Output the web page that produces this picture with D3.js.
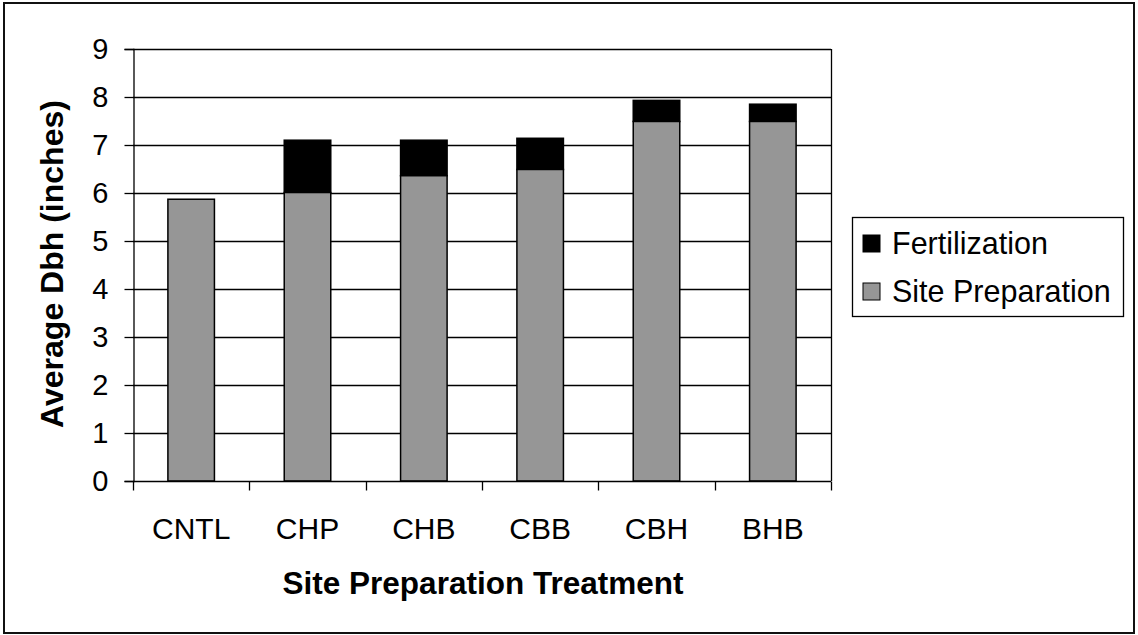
<!DOCTYPE html>
<html>
<head>
<meta charset="utf-8">
<script src="https://cdn.jsdelivr.net/npm/d3@7"></script>
<style>
  html, body { margin: 0; padding: 0; background: #fff; }
  svg { display: block; font-family: "Liberation Sans", Arial, sans-serif; }
</style>
</head>
<body>
<svg id="chart" width="1138" height="635"></svg>
<script>
// Average Dbh by site preparation treatment, split into site-preparation and fertilization gains
const treatments = ["CNTL", "CHP", "CHB", "CBB", "CBH", "BHB"];
const sitePreparation = [5.87, 6.01, 6.36, 6.49, 7.49, 7.49];
const fertilization = [0.00, 1.09, 0.74, 0.65, 0.44, 0.36];
const seriesNames = ["Fertilization", "Site Preparation"];
const seriesColors = ["#000000", "#969696"];
const yTicks = [0, 1, 2, 3, 4, 5, 6, 7, 8, 9];

const FONT = "'Liberation Sans', Arial, sans-serif";
const svg = d3.select("#chart");
const W = 1138, H = 635;

// outer frame
svg.append("rect")
  .attr("x", 4).attr("y", 3).attr("width", W - 8).attr("height", H - 5)
  .attr("fill", "#fff").attr("stroke", "#111").attr("stroke-width", 2);

const plot = { left: 133, right: 831, top: 49, bottom: 481 };

const x = d3.scaleBand().domain(treatments)
  .range([plot.left, plot.right]).paddingInner(0.6).paddingOuter(0.3);
const xEdges = d3.scaleLinear().domain([0, treatments.length]).range([plot.left, plot.right]);
const y = d3.scaleLinear().domain([0, 9]).range([plot.bottom, plot.top]);

const g = svg.append("g");

// horizontal gridlines
g.selectAll("line.grid").data(yTicks.filter(d => d > 0)).join("line")
  .attr("class", "grid")
  .attr("x1", plot.left).attr("x2", plot.right)
  .attr("y1", d => Math.round(y(d)) + 0.5).attr("y2", d => Math.round(y(d)) + 0.5)
  .attr("stroke", "#000").attr("stroke-width", 1.3);

// right edge of plot area
g.append("line")
  .attr("x1", plot.right + 0.5).attr("x2", plot.right + 0.5)
  .attr("y1", plot.top).attr("y2", plot.bottom)
  .attr("stroke", "#000").attr("stroke-width", 1.3);

// stacked bars
const rows = treatments.map((t, i) => ({ t, sp: sitePreparation[i], fz: fertilization[i] }));
const stack = d3.stack().keys(["fz", "sp"]).order(d3.stackOrderReverse)(rows);
const colorByKey = { fz: seriesColors[0], sp: seriesColors[1] };

stack.forEach(layer => {
  g.selectAll(null).data(layer.filter(d => d[1] - d[0] > 0)).join("rect")
    .attr("x", d => x(d.data.t))
    .attr("width", x.bandwidth())
    .attr("y", d => y(d[1]))
    .attr("height", d => y(d[0]) - y(d[1]))
    .attr("fill", colorByKey[layer.key])
    .attr("stroke", "#000").attr("stroke-width", 1.5);
});

// y axis
const yAxis = d3.axisLeft(y).tickValues(yTicks).tickSize(9).tickPadding(16).tickFormat(d3.format("d"));
const ya = svg.append("g").attr("transform", `translate(${plot.left + 0.5},0)`).call(yAxis);
ya.attr("font-size", null).attr("font-family", null);
ya.select(".domain").attr("stroke", "#000").attr("stroke-width", 1.3);
ya.selectAll(".tick line").attr("stroke", "#000").attr("stroke-width", 1.3);
ya.selectAll(".tick text")
  .style("font-size", "29px").style("font-family", FONT).attr("fill", "#000");

// x axis: category boundary ticks and labels
const xa = svg.append("g").attr("transform", `translate(0,${plot.bottom + 0.5})`);
xa.append("line").attr("x1", plot.left).attr("x2", plot.right)
  .attr("stroke", "#000").attr("stroke-width", 1.3);
xa.selectAll("line.edge").data(d3.range(treatments.length + 1)).join("line")
  .attr("class", "edge")
  .attr("x1", d => Math.round(xEdges(d)) + 0.5).attr("x2", d => Math.round(xEdges(d)) + 0.5)
  .attr("y1", 0).attr("y2", 9)
  .attr("stroke", "#000").attr("stroke-width", 1.3);
xa.selectAll("text").data(treatments).join("text")
  .attr("x", d => x(d) + x.bandwidth() / 2)
  .attr("y", 57)
  .attr("text-anchor", "middle")
  .style("font-size", "30px").attr("fill", "#000")
  .text(d => d);

// axis titles
svg.append("text")
  .attr("x", 483).attr("y", 594)
  .attr("text-anchor", "middle")
  .style("font-size", "31.5px").attr("font-weight", "bold")
  .text("Site Preparation Treatment");

svg.append("text")
  .attr("transform", "translate(63,264) rotate(-90)")
  .attr("text-anchor", "middle")
  .style("font-size", "32px").attr("font-weight", "bold")
  .text("Average Dbh (inches)");

// legend
const lg = svg.append("g").attr("transform", "translate(852,217)");
lg.append("rect").attr("x", 0.5).attr("y", 0.5).attr("width", 271).attr("height", 99)
  .attr("fill", "#fff").attr("stroke", "#000").attr("stroke-width", 1.3);
seriesNames.forEach((name, i) => {
  const row = lg.append("g").attr("transform", `translate(11,${26 + i * 48})`);
  row.append("rect").attr("x", 0).attr("y", -8).attr("width", 17).attr("height", 17)
    .attr("fill", seriesColors[i]).attr("stroke", "#000").attr("stroke-width", 1);
  row.append("text").attr("x", 29).attr("y", 11)
    .style("font-size", "30.5px").attr("fill", "#000")
    .text(name);
});
</script>
</body>
</html>
